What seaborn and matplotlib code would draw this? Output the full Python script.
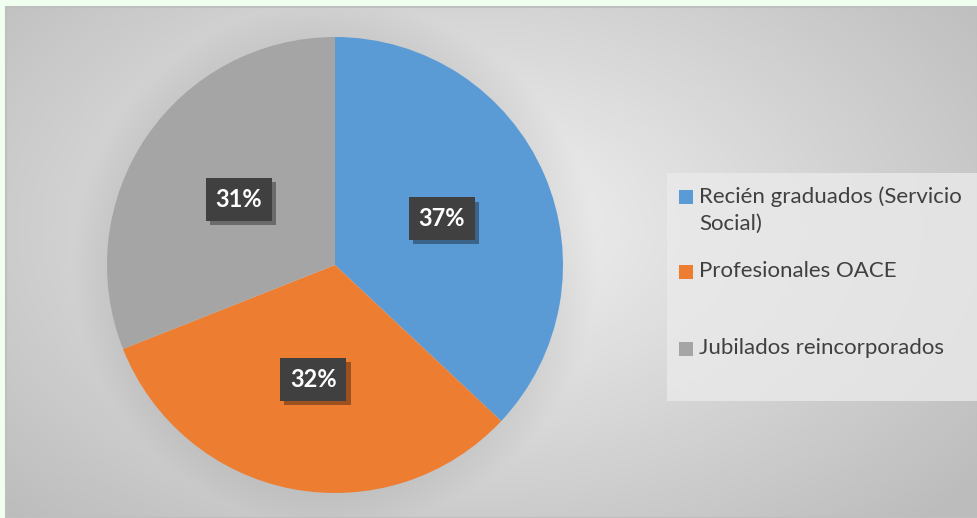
import numpy as np
import matplotlib
matplotlib.use("Agg")
import matplotlib.pyplot as plt
import matplotlib.patheffects as pe
import seaborn as sns

categorias = ["Recién graduados (Servicio\nSocial)", "Profesionales OACE", "Jubilados reincorporados"]
valores = [37, 32, 31]
colores = sns.color_palette(["#5B9BD5", "#ED7D31", "#A5A5A5"])

sns.set_theme(style="white")
plt.rcParams["font.family"] = ["Lato", "DejaVu Sans"]

W, H = 978, 518
fig = plt.figure(figsize=(W / 100, H / 100), dpi=100, facecolor="#F0FFF0")

# fondo con degradado radial y sombra alrededor del pastel
bg = fig.add_axes([0, 0, 1, 1])
bg.set_xlim(0, W)
bg.set_ylim(H, 0)
bg.axis("off")
x0, y0 = 6, 7
xx, yy = np.meshgrid(np.arange(x0, W) + 0.5, np.arange(y0, H) + 0.5)
t = np.sqrt(((xx - 470) / 650) ** 2 + ((yy - 230) / 400) ** 2)
v = 0.95 - 0.21 * np.clip(t, 0, 1)
cx, cy, R = 335, 265, 228
r = np.hypot(xx - cx, yy - cy)
v -= 0.05 * np.clip(1 - (r - R) / 35, 0, 1) * (r > R - 2)
img = np.dstack([v, v, v])
bg.imshow(img, extent=[x0, W, H, y0], interpolation="bilinear", zorder=0)
bg.add_patch(plt.Rectangle((x0, y0), W - x0, H - y0, fill=False, ec="#BFBFBF", lw=1.5, zorder=1))

# recuadro de la leyenda
bg.add_patch(plt.Rectangle((667, 173), W - 667, 228, fc="#EAEAEA", ec="none", alpha=0.8, zorder=1))

ax = fig.add_axes([(cx - R) / W, (H - cy - R) / H, 2 * R / W, 2 * R / H])
ax.set_facecolor("none")
wedges, texts, autotexts = ax.pie(
    valores, colors=colores, startangle=90, counterclock=False,
    autopct=lambda p: f"{p:.0f}%", pctdistance=0.51,
    wedgeprops=dict(linewidth=0),
    textprops=dict(color="white", fontsize=17, fontweight="bold"),
)
ax.set_xlim(-1, 1)
ax.set_ylim(-1, 1)
for at in autotexts:
    at.set_bbox(dict(boxstyle="square,pad=0.42", fc="#404040", ec="none"))
    at.get_bbox_patch().set_path_effects(
        [pe.SimplePatchShadow(offset=(3, -3), shadow_rgbFace="black", alpha=0.35), pe.Normal()])

# leyenda
ys = [197, 272, 349]
for lab, col, yc in zip(categorias, colores, ys):
    bg.add_patch(plt.Rectangle((679, yc - 7), 14, 14, fc=col, ec="none", zorder=3))
    bg.text(699, yc - 11, lab, fontsize=16, color="#404040", va="top", ha="left",
            linespacing=1.45, zorder=3)

fig.savefig("out.png", dpi=100, facecolor=fig.get_facecolor())
